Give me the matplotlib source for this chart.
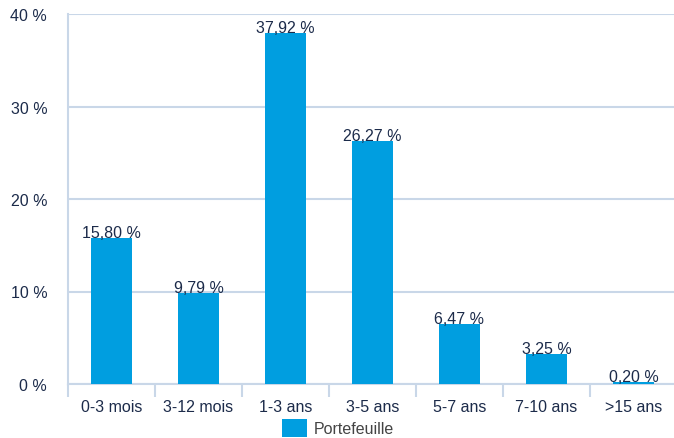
import numpy as np
import matplotlib.pyplot as plt

plt.rcParams['font.family'] = ['Liberation Sans', 'DejaVu Sans']

categories = ['0-3 mois', '3-12 mois', '1-3 ans', '3-5 ans', '5-7 ans', '7-10 ans', '>15 ans']
values = [15.80, 9.79, 37.92, 26.27, 6.47, 3.25, 0.20]
yticks = [0, 10, 20, 30, 40]

bar_color = '#009ee0'
grid_color = '#c9d7e8'
text_color = '#1c2b4a'
fs = 11.5

fig = plt.figure(figsize=(6.74, 4.39), dpi=100)
ax = fig.add_axes([68 / 674, 54 / 439, 609 / 674, 370 / 439])

x = np.arange(len(categories))
ax.bar(x, values, width=0.47, color=bar_color, zorder=3, label='Portefeuille')

for xi, v in zip(x, values):
    ax.text(xi, v - 0.2, f'{v:.2f} %'.replace('.', ','), ha='center', va='bottom',
            fontsize=fs, color=text_color, zorder=4)

ax.set_xlim(-0.5, len(categories) - 0.5)
ax.set_ylim(0, 40)
ax.set_yticks(yticks)
ax.set_yticklabels([f'{t} %' for t in yticks])
ax.yaxis.grid(True, color=grid_color, linewidth=1.5, zorder=0)

ax.set_xticks(x)
ax.set_xticklabels(categories)
ax.set_xticks(np.arange(-0.5, len(categories)), minor=True)
ax.tick_params(axis='x', which='major', length=0, pad=11, labelsize=fs, labelcolor=text_color)
ax.tick_params(axis='x', which='minor', length=9, width=1.5, color=grid_color)
ax.tick_params(axis='y', length=0, pad=15, labelsize=fs, labelcolor=text_color)

for s in ['top', 'right']:
    ax.spines[s].set_visible(False)
ax.spines['left'].set_color(grid_color)
ax.spines['left'].set_linewidth(1.5)
ax.spines['bottom'].set_color(grid_color)
ax.spines['bottom'].set_linewidth(1.5)

fig.legend(loc='lower center', bbox_to_anchor=(338 / 674, -0.03), frameon=False,
           fontsize=fs, labelcolor='#444444', handlelength=1.6, handleheight=1.3,
           handletextpad=0.4)

fig.savefig('out.png', dpi=100)
